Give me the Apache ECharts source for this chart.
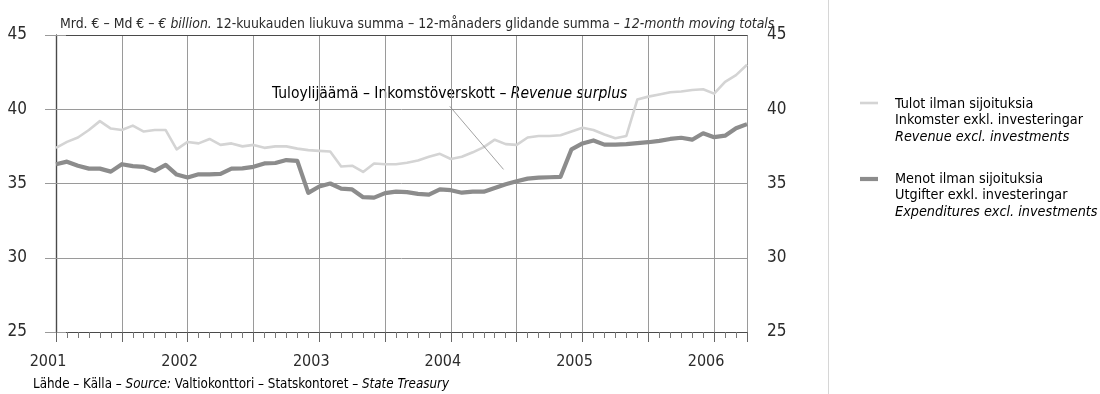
<!DOCTYPE html>
<html>
<head>
<meta charset="utf-8">
<script src="https://cdn.jsdelivr.net/npm/echarts@6/dist/echarts.min.js"></script>
<style>
  html, body { margin: 0; padding: 0; background: #ffffff; }
  #chart { width: 1100px; height: 394px; }
</style>
</head>
<body>
<div id="chart"></div>
<script>
// Monthly 12-month moving totals, Jan 2001 – Apr 2006 (€ billion)
const yearLabels = ['2001', '2002', '2003', '2004', '2005', '2006'];
const yTicks = [25, 30, 35, 40, 45];

const revenue = [
  37.4, 37.8, 38.1, 38.6, 39.2, 38.7, 38.6, 38.9, 38.5, 38.6,
  38.6, 37.3, 37.8, 37.7, 38.0, 37.6, 37.7, 37.5, 37.6, 37.4,
  37.5, 37.5, 37.35, 37.25, 37.2, 37.15, 36.15, 36.2, 35.78, 36.35,
  36.3, 36.3, 36.4, 36.55, 36.8, 37.0, 36.65, 36.8, 37.1, 37.45,
  37.95, 37.65, 37.6, 38.1, 38.2, 38.2, 38.25, 38.5, 38.75, 38.6,
  38.3, 38.05, 38.2, 40.65, 40.85, 41.0, 41.15, 41.2, 41.3, 41.35,
  41.05, 41.85, 42.3, 43.0
];

const expenditures = [
  36.3, 36.47, 36.2, 36.0, 36.0, 35.8, 36.3, 36.17, 36.12, 35.85,
  36.25, 35.6, 35.4, 35.62, 35.62, 35.65, 36.0, 36.02, 36.12, 36.35,
  36.38, 36.58, 36.52, 34.37, 34.8, 35.0, 34.65, 34.6, 34.08, 34.05,
  34.35, 34.45, 34.42, 34.3, 34.25, 34.6, 34.55, 34.38, 34.45, 34.45,
  34.7, 34.95, 35.15, 35.33, 35.4, 35.42, 35.45, 37.3, 37.7, 37.9,
  37.62, 37.62, 37.65, 37.72, 37.78, 37.87, 38.0, 38.08, 37.95, 38.38,
  38.12, 38.22, 38.72, 39.0
];

const revenueName = ['Tulot ilman sijoituksia', 'Inkomster exkl. investeringar', 'Revenue excl. investments'];
const expenditureName = ['Menot ilman sijoituksia', 'Utgifter exkl. investeringar', 'Expenditures excl. investments'];
const surplusLabel = ['Tuloylijäämä – Inkomstöverskott – ', 'Revenue surplus'];
const unitTitle = ['Mrd. € – Md € – ', '€ billion.', ' 12-kuukauden liukuva summa – 12-månaders glidande summa – ', '12-month moving totals'];
const sourceText = ['Lähde – Källa – ', 'Source:', ' Valtiokonttori – Statskontoret – ', 'State Treasury'];

const FONT = "'DejaVu Sans Condensed', 'Liberation Sans Narrow', sans-serif";
const TEXT = '#2b2b2b';
const REV_COLOR = '#d4d4d4';
const EXP_COLOR = '#8c8c8c';
const GRID = '#9a9a9a';
const AXIS = '#4a4a4a';

const toPairs = arr => arr.map((v, i) => [i, v]);
const lastMonth = revenue.length - 1;

const rich = (size, lh) => ({
  n: { fontFamily: FONT, fontSize: size, color: TEXT, fontWeight: 'normal', lineHeight: lh },
  i: { fontFamily: FONT, fontSize: size, color: TEXT, fontWeight: 'normal', fontStyle: 'italic', lineHeight: lh }
});

const chart = echarts.init(document.getElementById('chart'), null, { renderer: 'canvas' });

const yAxisBase = {
  type: 'value', min: yTicks[0], max: yTicks[yTicks.length - 1], interval: 5,
  axisLine: { show: true, lineStyle: { color: AXIS, width: 1.2 } },
  axisTick: { show: true, length: 11, lineStyle: { color: GRID } },
  splitLine: { show: true, lineStyle: { color: GRID, width: 1 } },
  axisLabel: { fontFamily: FONT, fontSize: 17, color: TEXT }
};

chart.setOption({
  backgroundColor: '#ffffff',
  animation: false,
  title: {
    left: 55, top: 12,
    text: '{n|' + unitTitle[0] + '}{i|' + unitTitle[1] + '}{n|' + unitTitle[2] + '}{i|' + unitTitle[3] + '}',
    textStyle: { fontWeight: 'normal', rich: rich(13.9) }
  },
  grid: { left: 56, right: 353, top: 35, bottom: 62 },
  xAxis: [{
    type: 'value', min: 0, max: lastMonth, interval: 6,
    axisLine: { show: true, lineStyle: { color: AXIS, width: 1.2 } },
    axisTick: { show: true, length: 10, lineStyle: { color: '#666' } },
    minorTick: { show: true, splitNumber: 6, length: 6, lineStyle: { color: '#777' } },
    splitLine: { show: true, lineStyle: { color: GRID, width: 1 } },
    axisLabel: {
      fontFamily: FONT, fontSize: 16, color: TEXT, margin: 22,
      padding: [0, 16, 0, 0],
      showMaxLabel: false,
      formatter: v => (v % 12 === 0 ? yearLabels[v / 12] : '')
    }
  }, {
    type: 'value', min: 0, max: lastMonth, position: 'top',
    axisLine: { show: true, lineStyle: { color: AXIS, width: 1.2 } },
    axisTick: { show: false }, axisLabel: { show: false }, splitLine: { show: false }
  }],
  yAxis: [
    Object.assign({}, yAxisBase, { position: 'left', axisLabel: Object.assign({}, yAxisBase.axisLabel, { margin: 29 }) }),
    Object.assign({}, yAxisBase, {
      position: 'right', splitLine: { show: false },
      axisTick: { show: true, length: 10, lineStyle: { color: GRID } },
      axisLabel: Object.assign({}, yAxisBase.axisLabel, { margin: 20 })
    })
  ],
  series: [{
    name: revenueName[2], type: 'line', data: toPairs(revenue),
    showSymbol: false, symbol: 'none', z: 3,
    lineStyle: { color: REV_COLOR, width: 2.6, join: 'round' },
    markLine: {
      silent: true, symbol: 'none',
      lineStyle: { color: '#8a8a8a', width: 0.8, type: 'solid' },
      label: { show: false },
      data: [[{ coord: [35.9, 40.2] }, { coord: [40.8, 35.95] }]]
    }
  }, {
    name: expenditureName[2], type: 'line', data: toPairs(expenditures),
    showSymbol: false, symbol: 'none', z: 4,
    lineStyle: { color: EXP_COLOR, width: 4.2, join: 'round' }
  }],
  graphic: [
    // panel divider
    { type: 'line', shape: { x1: 828.5, y1: 0, x2: 828.5, y2: 394 }, style: { stroke: '#d6d6d6', lineWidth: 1 } },
    // annotation
    {
      type: 'text', left: 272, top: 86,
      style: { text: '{n|' + surplusLabel[0] + '}{i|' + surplusLabel[1] + '}', rich: rich(15.5) }
    },
    // legend
    { type: 'line', shape: { x1: 860, y1: 103, x2: 878, y2: 103 }, style: { stroke: REV_COLOR, lineWidth: 2.6 } },
    {
      type: 'text', left: 895, top: 97,
      style: { text: '{n|' + revenueName[0] + '}\n{n|' + revenueName[1] + '}\n{i|' + revenueName[2] + '}', rich: rich(14.3, 16.5) }
    },
    { type: 'line', shape: { x1: 860, y1: 179, x2: 878, y2: 179 }, style: { stroke: EXP_COLOR, lineWidth: 4.2 } },
    {
      type: 'text', left: 895, top: 172,
      style: { text: '{n|' + expenditureName[0] + '}\n{n|' + expenditureName[1] + '}\n{i|' + expenditureName[2] + '}', rich: rich(14.3, 16.5) }
    },
    // source line
    {
      type: 'text', left: 33, top: 378,
      style: { text: '{n|' + sourceText[0] + '}{i|' + sourceText[1] + '}{n|' + sourceText[2] + '}{i|' + sourceText[3] + '}', rich: rich(13.3) }
    }
  ]
});
</script>
</body>
</html>
